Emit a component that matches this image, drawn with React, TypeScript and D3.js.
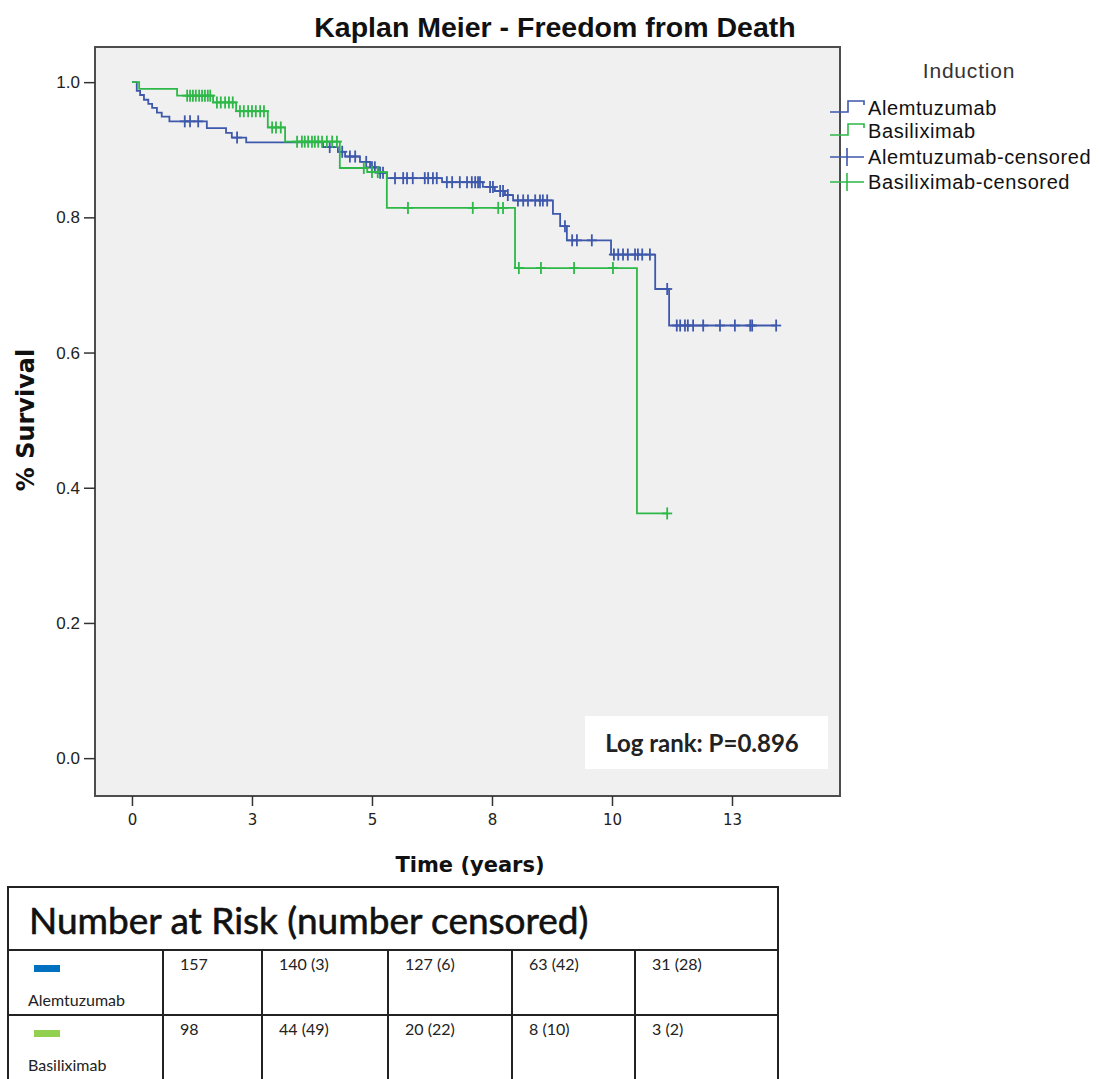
import React, { useEffect, useRef } from 'react';
import * as d3 from 'd3';

// Kaplan-Meier steps: event time (years) and survival after it
const alemTimes = [0.10, 0.17, 0.25, 0.34, 0.42, 0.52, 0.62, 0.78, 1.56, 1.96, 2.08, 2.38, 3.98, 4.29, 4.44, 4.75, 4.96, 5.13, 5.31, 6.46, 7.31, 7.56, 7.77, 7.94, 8.77, 8.92, 9.06, 9.98, 10.90, 11.19];
const alemSurv = [0.987, 0.981, 0.974, 0.968, 0.962, 0.955, 0.949, 0.942, 0.932, 0.925, 0.918, 0.911, 0.904, 0.897, 0.890, 0.882, 0.874, 0.866, 0.858, 0.852, 0.845, 0.839, 0.833, 0.825, 0.805, 0.787, 0.766, 0.745, 0.694, 0.640];
const alemCensored = [1.10, 1.21, 1.38, 2.19, 4.12, 4.38, 4.54, 4.65, 4.88, 5.0, 5.06, 5.17, 5.23, 5.48, 5.65, 5.73, 5.85, 6.10, 6.17, 6.27, 6.35, 6.56, 6.67, 6.83, 6.98, 7.08, 7.15, 7.21, 7.25, 7.46, 7.52, 7.67, 7.73, 7.83, 8.04, 8.15, 8.25, 8.40, 8.50, 8.56, 8.65, 9.02, 9.17, 9.27, 9.58, 10.04, 10.13, 10.23, 10.33, 10.48, 10.54, 10.63, 10.79, 11.15, 11.35, 11.42, 11.52, 11.58, 11.69, 11.90, 12.25, 12.56, 12.88, 12.92, 13.42];

const basiTimes = [0.15, 0.94, 1.69, 2.17, 2.83, 3.19, 4.33, 4.90, 5.31, 7.98, 10.52];
const basiSurv = [0.990, 0.980, 0.970, 0.957, 0.933, 0.912, 0.873, 0.867, 0.814, 0.725, 0.362];
const basiCensored = [1.15, 1.21, 1.27, 1.33, 1.40, 1.46, 1.52, 1.58, 1.63, 1.77, 1.85, 1.94, 2.02, 2.10, 2.25, 2.33, 2.42, 2.50, 2.58, 2.67, 2.75, 2.92, 3.0, 3.10, 3.44, 3.54, 3.60, 3.67, 3.75, 3.81, 3.88, 3.96, 4.06, 4.17, 4.27, 4.83, 5.0, 5.12, 5.75, 7.10, 7.63, 7.73, 8.06, 8.52, 9.21, 10.02, 11.15];

const groups = ['Alemtuzumab', 'Basiliximab'];
const lineColors = ['#3E58AC', '#2EB848'];
const swatchColors = ['#0070C0', '#92D050'];
const xTicks = [0, 2.5, 5, 7.5, 10, 12.5];
const yTicks = [0, 0.2, 0.4, 0.6, 0.8, 1.0];
const legendLabels = ['Alemtuzumab', 'Basiliximab', 'Alemtuzumab-censored', 'Basiliximab-censored'];
const alemRisk = ['157', '140 (3)', '127 (6)', '63 (42)', '31 (28)'];
const basiRisk = ['98', '44 (49)', '20 (22)', '8 (10)', '3 (2)'];

const ARIAL = '"Liberation Sans", Arial, sans-serif';
const DEJAVU = '"DejaVu Sans", sans-serif';
const LATO = 'Lato, "Open Sans", sans-serif';

export default function App() {
  const ref = useRef<SVGSVGElement>(null);

  useEffect(() => {
    const svg = d3.select(ref.current);
    svg.selectAll('*').remove();

    const left = 95, right = 840, top = 47, bottom = 796;
    const x = d3.scaleLinear().domain([-0.77, 14.75]).range([left, right]);
    const y = d3.scaleLinear().domain([-0.056, 1.052]).range([bottom, top]);

    // title
    svg.append('text')
      .attr('x', 555).attr('y', 37)
      .attr('text-anchor', 'middle')
      .style('font-family', ARIAL).style('font-weight', 'bold').style('font-size', '28.5px')
      .attr('fill', '#111')
      .text('Kaplan Meier - Freedom from Death');

    // plot area
    svg.append('rect')
      .attr('x', left).attr('y', top)
      .attr('width', right - left).attr('height', bottom - top)
      .attr('fill', '#f0f0f0').attr('stroke', '#4d4d4d').attr('stroke-width', 2);

    // axes
    const yAxis = svg.append('g')
      .attr('transform', `translate(${left},0)`)
      .call(d3.axisLeft(y).tickValues(yTicks).tickSize(11).tickPadding(4).tickFormat(d3.format('.1f')));
    yAxis.select('.domain').remove();
    yAxis.selectAll('line').attr('stroke', '#333').attr('stroke-width', 1.5);
    yAxis.selectAll('text').style('font-family', ARIAL).style('font-size', '17px').attr('fill', '#222');

    const xAxis = svg.append('g')
      .attr('transform', `translate(0,${bottom})`)
      .call(d3.axisBottom(x).tickValues(xTicks).tickSize(10).tickPadding(8).tickFormat(d3.format('.0f')));
    xAxis.select('.domain').remove();
    xAxis.selectAll('line').attr('stroke', '#333').attr('stroke-width', 1.5);
    xAxis.selectAll('text').style('font-family', DEJAVU).style('font-size', '15px').attr('fill', '#222');

    svg.append('text')
      .attr('x', 470).attr('y', 872)
      .attr('text-anchor', 'middle')
      .style('font-family', DEJAVU).style('font-weight', 'bold').style('font-size', '21px')
      .attr('fill', '#111')
      .text('Time (years)');

    svg.append('text')
      .attr('transform', 'translate(34,420) rotate(-90)')
      .attr('text-anchor', 'middle')
      .style('font-family', DEJAVU).style('font-weight', 'bold').style('font-size', '24px')
      .attr('fill', '#111')
      .text('% Survival');

    // curves
    const series = [
      { times: alemTimes, surv: alemSurv, cens: alemCensored },
      { times: basiTimes, surv: basiSurv, cens: basiCensored },
    ];
    const line = d3.line<[number, number]>()
      .x(d => x(d[0])).y(d => y(d[1]))
      .curve(d3.curveStepAfter);

    series.forEach((s, gi) => {
      const survAt = (t: number) => {
        let v = 1;
        s.times.forEach((et, i) => { if (et <= t) v = s.surv[i]; });
        return v;
      };
      const end = d3.max(s.cens) as number;
      const pts: [number, number][] = [[0, 1]];
      s.times.forEach((t, i) => pts.push([t, s.surv[i]]));
      pts.push([end, s.surv[s.surv.length - 1]]);

      svg.append('path')
        .attr('d', line(pts))
        .attr('fill', 'none')
        .attr('stroke', lineColors[gi])
        .attr('stroke-width', 1.8);

      const marks = svg.append('g')
        .attr('stroke', lineColors[gi])
        .attr('stroke-width', 1.8);
      s.cens.forEach(t => {
        const cx = x(t), cy = y(survAt(t));
        marks.append('line').attr('x1', cx).attr('x2', cx).attr('y1', cy - 6).attr('y2', cy + 6);
        marks.append('line').attr('x1', cx - 5).attr('x2', cx + 5).attr('y1', cy).attr('y2', cy);
      });
    });

    // log rank box
    svg.append('rect')
      .attr('x', 585).attr('y', 716).attr('width', 243).attr('height', 53)
      .attr('fill', '#ffffff');
    svg.append('text')
      .attr('x', 702).attr('y', 752)
      .attr('text-anchor', 'middle')
      .style('font-family', LATO).style('font-weight', 'bold').style('font-size', '24px')
      .attr('fill', '#222')
      .text('Log rank: P=0.896');

    // legend
    svg.append('text')
      .attr('x', 969).attr('y', 78)
      .attr('text-anchor', 'middle')
      .style('font-family', ARIAL).style('font-size', '21px').style('letter-spacing', '0.8px')
      .attr('fill', '#333')
      .text('Induction');

    const legY = [108, 131, 157, 182];
    legendLabels.forEach((lab, i) => {
      const ly = legY[i];
      const col = lineColors[i % 2];
      if (i < 2) {
        svg.append('path')
          .attr('d', `M830,${ly + 4}H848V${ly - 7}H864V${ly - 3}`)
          .attr('fill', 'none').attr('stroke', col).attr('stroke-width', 1.6);
      } else {
        svg.append('path')
          .attr('d', `M830,${ly}H864M847,${ly - 9}V${ly + 9}`)
          .attr('fill', 'none').attr('stroke', col).attr('stroke-width', 1.6);
      }
      svg.append('text')
        .attr('x', 868).attr('y', ly + 7)
        .style('font-family', ARIAL).style('font-size', '20px').style('letter-spacing', '0.6px')
        .attr('fill', '#111')
        .text(lab);
    });

    // number at risk table
    const colX = [8, 163, 262, 388, 512, 635, 778];
    const rowY = [887, 950, 1015, 1081];
    const tbl = svg.append('g');
    tbl.append('rect')
      .attr('x', colX[0]).attr('y', rowY[0])
      .attr('width', colX[6] - colX[0]).attr('height', rowY[3] - rowY[0])
      .attr('fill', '#fff').attr('stroke', '#222').attr('stroke-width', 2);
    tbl.append('line').attr('x1', colX[0]).attr('x2', colX[6]).attr('y1', rowY[1]).attr('y2', rowY[1])
      .attr('stroke', '#222').attr('stroke-width', 2);
    tbl.append('line').attr('x1', colX[0]).attr('x2', colX[6]).attr('y1', rowY[2]).attr('y2', rowY[2])
      .attr('stroke', '#222').attr('stroke-width', 2);
    colX.slice(1, 6).forEach(cx => {
      tbl.append('line').attr('x1', cx).attr('x2', cx).attr('y1', rowY[1]).attr('y2', rowY[3])
        .attr('stroke', '#222').attr('stroke-width', 2);
    });
    tbl.append('text')
      .attr('x', 29).attr('y', 934)
      .style('font-family', LATO).style('font-size', '37px')
      .attr('fill', '#111').attr('stroke', '#111').attr('stroke-width', 0.6)
      .text('Number at Risk (number censored)');

    [alemRisk, basiRisk].forEach((vals, ri) => {
      const ry = rowY[ri + 1];
      tbl.append('rect')
        .attr('x', 34).attr('y', ry + 15).attr('width', 26).attr('height', 7)
        .attr('fill', swatchColors[ri]);
      tbl.append('text')
        .attr('x', 28).attr('y', ry + 56)
        .style('font-family', LATO).style('font-size', '16px')
        .attr('fill', '#222')
        .text(groups[ri]);
      vals.forEach((v, ci) => {
        tbl.append('text')
          .attr('x', colX[ci + 1] + 17).attr('y', ry + 20)
          .style('font-family', LATO).style('font-size', '16px')
          .attr('fill', '#222')
          .text(v);
      });
    });
  }, []);

  return (
    <div style={{ position: 'absolute', left: 0, top: 0 }}>
      <svg ref={ref} width={1099} height={1079} style={{ display: 'block', background: '#fff' }} />
    </div>
  );
}
